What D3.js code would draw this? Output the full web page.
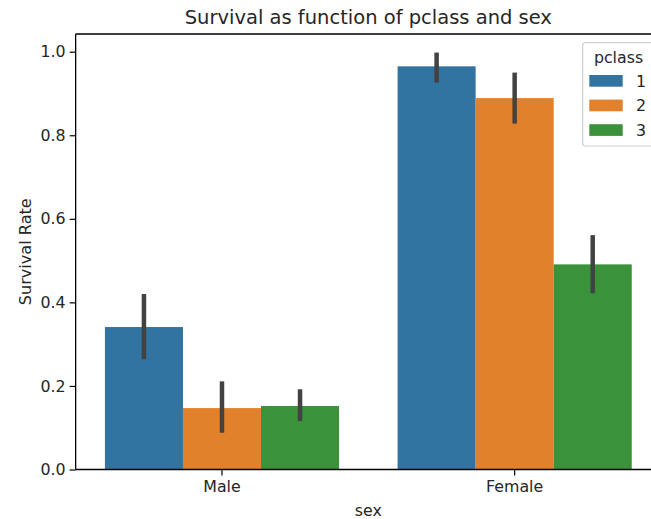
<!DOCTYPE html>
<html>
<head>
<meta charset="utf-8">
<script src="https://cdn.jsdelivr.net/npm/d3@7"></script>
<style>
  html, body { margin: 0; padding: 0; background: #fff; }
  svg { display: block; font-family: "DejaVu Sans", sans-serif; }
</style>
</head>
<body>
<svg id="chart" width="651" height="519"></svg>
<script>
const sexes = ["Male", "Female"];
const pclasses = ["1", "2", "3"];
const maleRate = [0.341, 0.147, 0.152];
const femaleRate = [0.965, 0.889, 0.491];
const maleLow = [0.264, 0.088, 0.116];
const maleHigh = [0.420, 0.211, 0.192];
const femaleLow = [0.926, 0.828, 0.422];
const femaleHigh = [0.998, 0.950, 0.561];
const yTicks = [0.0, 0.2, 0.4, 0.6, 0.8, 1.0];
const colors = ["#3274a1", "#e1812c", "#3a923a"];

(function () {
const rows = [];
sexes.forEach((s, si) => {
  const rate = si === 0 ? maleRate : femaleRate;
  const lo = si === 0 ? maleLow : femaleLow;
  const hi = si === 0 ? maleHigh : femaleHigh;
  pclasses.forEach((p, pi) => rows.push({sex: s, pclass: p, rate: rate[pi], lo: lo[pi], hi: hi[pi]}));
});

const svg = d3.select("#chart");
const mLeft = 75.65, mRight = 661, mTop = 34, mBottom = 469.5;
const fs = 15.8;

const x = d3.scaleBand().domain(sexes).range([mLeft, mRight]).padding(0);
const inner = d3.scaleBand().domain(pclasses).range([0, x.bandwidth() * 0.8]).padding(0);
const y = d3.scaleLinear().domain([0, 1.0424]).range([mBottom, mTop]);
const color = d3.scaleOrdinal().domain(pclasses).range(colors);

const g = svg.append("g");
const off = x.bandwidth() * 0.1;

g.selectAll("rect.bar").data(rows).enter().append("rect")
  .attr("class", "bar")
  .attr("x", d => x(d.sex) + off + inner(d.pclass))
  .attr("width", inner.bandwidth())
  .attr("y", d => y(d.rate))
  .attr("height", d => y(0) - y(d.rate))
  .attr("fill", d => color(d.pclass));

g.selectAll("line.err").data(rows).enter().append("line")
  .attr("class", "err")
  .attr("x1", d => x(d.sex) + off + inner(d.pclass) + inner.bandwidth() / 2)
  .attr("x2", d => x(d.sex) + off + inner(d.pclass) + inner.bandwidth() / 2)
  .attr("y1", d => y(d.lo))
  .attr("y2", d => y(d.hi))
  .attr("stroke", "#424242")
  .attr("stroke-width", 4.5);

// Axes
const yAxis = d3.axisLeft(y).tickValues(yTicks).tickFormat(d3.format(".1f")).tickSize(6).tickPadding(4);
const ya = svg.append("g").attr("transform", `translate(${mLeft},0)`).call(yAxis);
ya.select(".domain").remove();
ya.selectAll("line").attr("stroke", "#000").attr("stroke-width", 1.2);
ya.selectAll("text").attr("font-size", fs).attr("fill", "#262626").attr("font-family", "DejaVu Sans");

const xAxis = d3.axisBottom(x).tickSize(6).tickPadding(5);
const xa = svg.append("g").attr("transform", `translate(0,${mBottom})`).call(xAxis);
xa.select(".domain").remove();
xa.selectAll("line").attr("stroke", "#000").attr("stroke-width", 1.2);
xa.selectAll("text").attr("font-size", fs).attr("fill", "#262626").attr("font-family", "DejaVu Sans");

// Spines
const sp = svg.append("g").attr("stroke", "#000").attr("stroke-width", 1.3).attr("fill", "none");
sp.append("line").attr("x1", mLeft).attr("x2", mLeft).attr("y1", mTop).attr("y2", mBottom);
sp.append("line").attr("x1", mLeft).attr("x2", mRight).attr("y1", mBottom).attr("y2", mBottom);
sp.append("line").attr("x1", mLeft).attr("x2", mRight).attr("y1", mTop).attr("y2", mTop);
sp.append("line").attr("x1", mRight).attr("x2", mRight).attr("y1", mTop).attr("y2", mBottom);

// Title and labels
svg.append("text").attr("x", (mLeft + mRight) / 2).attr("y", 23.5).attr("text-anchor", "middle")
  .attr("font-size", 19.5).attr("fill", "#262626").text("Survival as function of pclass and sex");
svg.append("text").attr("x", (mLeft + mRight) / 2).attr("y", 516).attr("text-anchor", "middle")
  .attr("font-size", fs).attr("fill", "#262626").text("sex");
svg.append("text").attr("transform", `translate(31,${(mTop + mBottom) / 2}) rotate(-90)`).attr("text-anchor", "middle")
  .attr("font-size", 16.1).attr("fill", "#262626").text("Survival Rate");

// Legend
const lg = svg.append("g");
lg.append("rect").attr("x", 582.7).attr("y", 42.7).attr("width", 72).attr("height", 103.3)
  .attr("rx", 3).attr("fill", "#fff").attr("fill-opacity", 0.8).attr("stroke", "#d0d0d0").attr("stroke-width", 1.2);
lg.append("text").attr("x", 618.5).attr("y", 63).attr("text-anchor", "middle")
  .attr("font-size", fs).attr("fill", "#262626").text("pclass");
const items = lg.selectAll("g.item").data(pclasses).enter().append("g").attr("class", "item")
  .attr("transform", (d, i) => `translate(0,${75 + i * 24.6})`);
items.append("rect").attr("x", 589.3).attr("y", 0).attr("width", 33.4).attr("height", 11.7)
  .attr("fill", d => color(d));
items.append("text").attr("x", 636).attr("y", 11.5).attr("font-size", fs).attr("fill", "#262626").text(d => d);
})();
</script>
</body>
</html>
